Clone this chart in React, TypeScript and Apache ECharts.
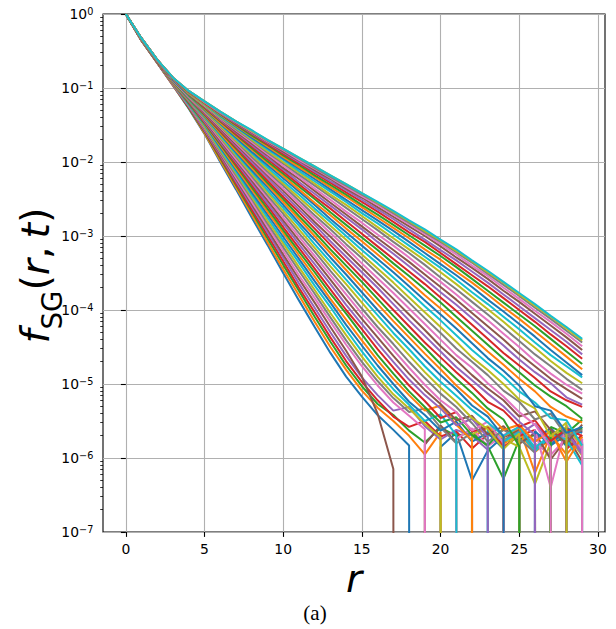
import React, { useEffect, useRef } from "react";
import * as echarts from "echarts";

// log10 of f_SG(r, t); Z marks a value of zero (non-positive), drawn off the bottom of the log axis
const Z = -Infinity;

const radii = [0, 1, 2, 3, 4, 5, 6, 7, 8, 9, 10, 11, 12, 13, 14, 15, 16, 17, 18, 19, 20, 21, 22, 23, 24, 25, 26, 27, 28, 29];

const c00 = [0, -0.36, -0.66, -0.97, -1.28, -1.62, -2.0, -2.37, -2.75, -3.12, -3.5, -3.87, -4.23, -4.58, -4.9, -5.17, -5.42, -5.62, -5.83, Z, -5.85, -5.66, -6.3, -5.9, -5.71, -5.64, Z, -5.83, -5.69, -5.76];
const c01 = [0, -0.36, -0.66, -0.97, -1.27, -1.61, -1.98, -2.34, -2.71, -3.08, -3.45, -3.8, -4.16, -4.5, -4.81, -5.09, -5.32, -5.5, -5.7, -5.95, -5.65, Z, -5.73, -5.58, -5.81, -5.67, -5.92, -5.74, -5.62, -5.8];
const c02 = [0, -0.36, -0.66, -0.96, -1.27, -1.59, -1.95, -2.31, -2.67, -3.03, -3.39, -3.74, -4.09, -4.43, -4.75, -5.03, -5.27, -5.42, -5.63, -5.79, -5.59, -5.7, -5.66, -5.84, -6.28, -5.75, -5.69, Z, -5.82, -5.6];
const c03 = [0, -0.36, -0.66, -0.96, -1.26, -1.58, -1.93, -2.29, -2.64, -2.99, -3.34, -3.7, -4.03, -4.37, -4.69, -4.97, -5.22, -5.44, -5.58, -5.5, -5.71, -5.64, -5.87, -5.68, -5.79, -5.57, Z, -5.76, -5.65, -5.88];
const c04 = [0, -0.36, -0.66, -0.96, -1.25, -1.57, -1.91, -2.26, -2.6, -2.95, -3.29, -3.64, -3.97, -4.3, -4.62, -4.91, -5.15, -5.36, -5.31, -5.57, -5.75, -5.62, -5.7, -5.89, Z, -5.66, -5.78, -5.59, -5.83, -5.71];
const c05 = [0, -0.36, -0.65, -0.95, -1.24, -1.55, -1.89, -2.23, -2.57, -2.91, -3.25, -3.58, -3.9, -4.23, -4.55, -4.9, -5.4, -6.15, Z, -5.82, -5.56, -5.79, Z, Z, -5.72, -5.62, -5.86, -5.75, -5.69, -6.05];
const c06 = [0, -0.35, -0.65, -0.95, -1.24, -1.54, -1.87, -2.21, -2.54, -2.87, -3.2, -3.53, -3.84, -4.16, -4.47, -4.76, -5.02, -5.25, -5.43, -5.61, Z, -5.74, -5.6, -5.84, -5.69, -5.58, -5.8, -5.96, -5.73, -5.64];
const c07 = [0, -0.35, -0.65, -0.95, -1.23, -1.53, -1.86, -2.18, -2.5, -2.83, -3.15, -3.47, -3.78, -4.1, -4.41, -4.7, -4.96, -5.19, -5.38, -5.33, -5.59, -5.8, -5.66, Z, -5.76, -5.64, -5.88, -5.71, -5.61, -5.85];
const c08 = [0, -0.35, -0.65, -0.94, -1.22, -1.52, -1.84, -2.15, -2.47, -2.79, -3.1, -3.42, -3.73, -4.04, -4.34, -4.63, -4.9, -5.14, -5.33, -5.54, -5.72, Z, -5.68, -5.57, -5.74, -5.85, -6.35, -5.79, -5.68, -5.97];
const c09 = [0, -0.35, -0.65, -0.94, -1.22, -1.5, -1.82, -2.13, -2.44, -2.75, -3.06, -3.36, -3.67, -3.96, -4.27, -4.56, -4.83, -5.07, -5.28, -5.5, -5.41, -5.69, Z, -5.62, -5.78, -5.65, -5.91, -5.7, Z, -5.81];
const c10 = [0, -0.35, -0.65, -0.94, -1.21, -1.49, -1.8, -2.1, -2.41, -2.71, -3.01, -3.31, -3.61, -3.9, -4.2, -4.48, -4.75, -5.0, -5.24, -5.42, -5.63, -5.51, -5.78, -5.66, -5.88, Z, -5.73, -5.6, -5.84, -5.77];
const c11 = [0, -0.35, -0.65, -0.94, -1.2, -1.48, -1.78, -2.08, -2.37, -2.67, -2.96, -3.26, -3.55, -3.85, -4.13, -4.41, -4.68, -4.93, -5.15, -5.36, -5.29, -5.55, -5.76, Z, -5.71, -5.59, -6.2, -5.68, -5.95, -5.72];
const c12 = [0, -0.35, -0.65, -0.93, -1.2, -1.47, -1.76, -2.05, -2.34, -2.63, -2.92, -3.21, -3.49, -3.78, -4.05, -4.33, -4.61, -4.86, -5.1, -5.31, -5.52, -5.45, -5.69, -5.83, -5.6, -5.77, Z, -5.64, -5.81, -5.58];
const c13 = [0, -0.35, -0.65, -0.93, -1.19, -1.46, -1.74, -2.03, -2.31, -2.59, -2.88, -3.16, -3.44, -3.72, -4.0, -4.26, -4.53, -4.78, -5.02, -5.23, -5.46, -5.38, -5.64, -5.59, -5.85, -5.7, -5.62, Z, -5.88, -5.69];
const c14 = [0, -0.35, -0.64, -0.93, -1.18, -1.45, -1.73, -2.0, -2.28, -2.56, -2.83, -3.11, -3.38, -3.65, -3.93, -4.19, -4.45, -4.7, -4.94, -5.15, -5.33, -5.56, -5.47, -5.72, Z, -5.68, -5.54, -5.79, -5.66, -5.95];
const c15 = [0, -0.35, -0.64, -0.92, -1.18, -1.43, -1.71, -1.98, -2.25, -2.52, -2.79, -3.06, -3.32, -3.59, -3.86, -4.12, -4.37, -4.62, -4.86, -5.08, -5.27, -5.49, -5.43, -5.68, -5.57, -5.81, -5.66, -6.02, -5.74, -5.63];
const c16 = [0, -0.35, -0.64, -0.92, -1.17, -1.42, -1.69, -1.96, -2.22, -2.48, -2.75, -3.01, -3.27, -3.53, -3.79, -4.05, -4.29, -4.54, -4.78, -5.01, -5.22, -5.38, -5.63, -5.51, -5.8, Z, -5.61, -6.4, -5.55, -5.9];
const c17 = [0, -0.35, -0.64, -0.92, -1.17, -1.41, -1.67, -1.93, -2.19, -2.45, -2.7, -2.96, -3.21, -3.47, -3.72, -3.98, -4.23, -4.46, -4.7, -4.92, -5.13, -5.31, -5.53, -5.78, -5.62, -5.74, -5.93, Z, Z, -5.79];
const c18 = [0, -0.35, -0.64, -0.92, -1.16, -1.4, -1.66, -1.91, -2.16, -2.41, -2.66, -2.91, -3.16, -3.41, -3.65, -3.9, -4.15, -4.38, -4.61, -4.84, -5.05, -5.24, -5.46, -5.61, -5.88, -5.67, Z, -5.73, -5.58, -5.84];
const c19 = [0, -0.34, -0.64, -0.91, -1.15, -1.39, -1.64, -1.89, -2.13, -2.38, -2.62, -2.86, -3.11, -3.35, -3.59, -3.83, -4.07, -4.31, -4.53, -4.76, -4.97, -5.16, -5.35, -5.52, -5.7, -5.58, -5.86, -5.69, -5.75, -6.1];
const c20 = [0, -0.34, -0.64, -0.91, -1.15, -1.38, -1.62, -1.87, -2.11, -2.34, -2.58, -2.82, -3.05, -3.29, -3.52, -3.76, -4.0, -4.23, -4.45, -4.67, -4.88, -5.07, -5.29, -5.44, -5.71, Z, -5.64, -5.83, -5.6, -5.66];
const c21 = [0, -0.34, -0.64, -0.91, -1.14, -1.37, -1.61, -1.85, -2.08, -2.31, -2.54, -2.77, -3.0, -3.23, -3.46, -3.69, -3.92, -4.15, -4.37, -4.59, -4.8, -5.02, -5.21, -5.39, -5.62, -5.55, -5.78, -5.64, -6.05, -5.71];
const c22 = [0, -0.34, -0.64, -0.91, -1.14, -1.36, -1.59, -1.82, -2.05, -2.28, -2.5, -2.73, -2.95, -3.18, -3.4, -3.62, -3.85, -4.08, -4.3, -4.51, -4.73, -4.93, -5.12, -5.33, -5.48, -5.84, Z, -5.58, -5.67, -5.48];
const c23 = [0, -0.34, -0.64, -0.9, -1.13, -1.35, -1.58, -1.8, -2.03, -2.25, -2.47, -2.68, -2.9, -3.12, -3.34, -3.56, -3.78, -4.0, -4.22, -4.44, -4.64, -4.84, -5.03, -5.24, -5.36, -5.58, -5.49, -5.77, -5.61, -5.7];
const c24 = [0, -0.34, -0.63, -0.9, -1.13, -1.34, -1.56, -1.78, -2.0, -2.21, -2.43, -2.64, -2.85, -3.07, -3.28, -3.49, -3.7, -3.92, -4.14, -4.35, -4.56, -4.77, -4.95, -5.13, -5.3, -5.51, -5.69, Z, -5.66, -5.92];
const c25 = [0, -0.34, -0.63, -0.9, -1.12, -1.33, -1.55, -1.76, -1.97, -2.18, -2.39, -2.6, -2.81, -3.01, -3.22, -3.43, -3.64, -3.85, -4.06, -4.27, -4.49, -4.68, -4.88, -5.06, -5.22, -5.44, -5.37, -5.62, -5.8, -5.55];
const c26 = [0, -0.34, -0.63, -0.9, -1.12, -1.32, -1.53, -1.74, -1.95, -2.16, -2.36, -2.56, -2.76, -2.96, -3.16, -3.37, -3.57, -3.77, -3.98, -4.19, -4.4, -4.61, -4.78, -4.99, -5.17, -5.38, -5.55, -5.86, Z, -5.74];
const c27 = [0, -0.34, -0.63, -0.89, -1.11, -1.31, -1.52, -1.72, -1.93, -2.13, -2.32, -2.52, -2.72, -2.91, -3.11, -3.3, -3.5, -3.7, -3.9, -4.11, -4.31, -4.52, -4.7, -4.88, -5.09, -5.24, -5.48, -5.4, -5.71, -5.62];
const c28 = [0, -0.34, -0.63, -0.89, -1.11, -1.3, -1.51, -1.71, -1.9, -2.1, -2.29, -2.48, -2.67, -2.86, -3.05, -3.25, -3.44, -3.63, -3.83, -4.03, -4.23, -4.43, -4.64, -4.81, -5.0, -5.21, -5.33, -5.71, -5.52, Z];
const c29 = [0, -0.34, -0.63, -0.89, -1.1, -1.29, -1.49, -1.69, -1.88, -2.07, -2.26, -2.44, -2.63, -2.81, -3.0, -3.19, -3.37, -3.56, -3.75, -3.95, -4.14, -4.34, -4.54, -4.72, -4.9, -5.1, -5.25, -5.46, -5.49, -5.83];
const c30 = [0, -0.34, -0.63, -0.89, -1.1, -1.29, -1.48, -1.67, -1.86, -2.04, -2.22, -2.4, -2.58, -2.77, -2.95, -3.13, -3.31, -3.49, -3.68, -3.87, -4.06, -4.25, -4.45, -4.65, -4.82, -5.02, -5.3, -5.36, -5.66, -5.58];
const c31 = [0, -0.34, -0.63, -0.88, -1.09, -1.28, -1.47, -1.65, -1.83, -2.01, -2.19, -2.37, -2.55, -2.72, -2.9, -3.07, -3.25, -3.43, -3.61, -3.8, -3.98, -4.17, -4.37, -4.56, -4.74, -4.93, -5.1, -5.31, -5.44, -5.52];
const c32 = [0, -0.34, -0.63, -0.88, -1.09, -1.27, -1.45, -1.63, -1.81, -1.99, -2.16, -2.33, -2.5, -2.68, -2.85, -3.02, -3.19, -3.37, -3.54, -3.72, -3.9, -4.09, -4.28, -4.47, -4.66, -4.84, -5.02, -5.17, -5.3, -5.47];
const c33 = [0, -0.34, -0.63, -0.88, -1.08, -1.26, -1.44, -1.62, -1.79, -1.96, -2.13, -2.3, -2.47, -2.63, -2.8, -2.97, -3.14, -3.31, -3.48, -3.65, -3.83, -4.01, -4.2, -4.39, -4.58, -4.75, -4.92, -5.1, -5.22, -5.31];
const c34 = [0, -0.34, -0.63, -0.88, -1.08, -1.25, -1.43, -1.6, -1.77, -1.94, -2.1, -2.27, -2.43, -2.59, -2.75, -2.91, -3.08, -3.24, -3.41, -3.58, -3.76, -3.93, -4.11, -4.3, -4.48, -4.67, -4.84, -4.99, -5.18, -5.28];
const c35 = [0, -0.33, -0.63, -0.88, -1.08, -1.25, -1.42, -1.59, -1.75, -1.91, -2.08, -2.23, -2.39, -2.55, -2.71, -2.87, -3.03, -3.19, -3.35, -3.52, -3.69, -3.86, -4.04, -4.22, -4.4, -4.59, -4.76, -4.93, -5.07, -5.2];
const c36 = [0, -0.33, -0.63, -0.88, -1.07, -1.24, -1.41, -1.57, -1.73, -1.89, -2.05, -2.2, -2.36, -2.51, -2.67, -2.82, -2.98, -3.13, -3.29, -3.46, -3.62, -3.79, -3.97, -4.14, -4.32, -4.5, -4.69, -4.86, -5.01, -5.13];
const c37 = [0, -0.33, -0.62, -0.87, -1.07, -1.23, -1.4, -1.56, -1.71, -1.87, -2.02, -2.17, -2.32, -2.47, -2.62, -2.77, -2.92, -3.08, -3.23, -3.39, -3.56, -3.72, -3.89, -4.06, -4.24, -4.42, -4.6, -4.76, -4.93, -5.08];
const c38 = [0, -0.33, -0.62, -0.87, -1.07, -1.23, -1.39, -1.54, -1.7, -1.85, -2.0, -2.14, -2.29, -2.44, -2.58, -2.73, -2.88, -3.03, -3.18, -3.33, -3.49, -3.65, -3.82, -3.99, -4.16, -4.34, -4.51, -4.69, -4.85, -4.99];
const c39 = [0, -0.33, -0.62, -0.87, -1.06, -1.22, -1.38, -1.53, -1.68, -1.83, -1.97, -2.12, -2.26, -2.4, -2.54, -2.69, -2.83, -2.98, -3.13, -3.28, -3.43, -3.59, -3.76, -3.92, -4.09, -4.26, -4.44, -4.61, -4.76, -4.91];
const c40 = [0, -0.33, -0.62, -0.87, -1.06, -1.21, -1.37, -1.52, -1.67, -1.81, -1.95, -2.09, -2.23, -2.37, -2.51, -2.65, -2.79, -2.93, -3.08, -3.23, -3.38, -3.53, -3.69, -3.86, -4.02, -4.19, -4.36, -4.54, -4.71, -4.88];
const c41 = [0, -0.33, -0.62, -0.87, -1.06, -1.21, -1.36, -1.51, -1.65, -1.79, -1.93, -2.07, -2.2, -2.34, -2.47, -2.61, -2.75, -2.89, -3.03, -3.18, -3.32, -3.48, -3.63, -3.79, -3.96, -4.12, -4.29, -4.46, -4.63, -4.8];
const c42 = [0, -0.33, -0.62, -0.87, -1.05, -1.2, -1.35, -1.5, -1.64, -1.77, -1.91, -2.04, -2.18, -2.31, -2.44, -2.58, -2.71, -2.85, -2.99, -3.13, -3.27, -3.42, -3.58, -3.74, -3.9, -4.06, -4.22, -4.39, -4.56, -4.73];
const c43 = [0, -0.33, -0.62, -0.87, -1.05, -1.2, -1.34, -1.49, -1.62, -1.76, -1.89, -2.02, -2.15, -2.28, -2.41, -2.54, -2.67, -2.81, -2.95, -3.08, -3.23, -3.38, -3.53, -3.68, -3.84, -4.0, -4.16, -4.33, -4.49, -4.66];
const c44 = [0, -0.33, -0.62, -0.86, -1.05, -1.19, -1.34, -1.48, -1.61, -1.74, -1.87, -2.0, -2.13, -2.26, -2.38, -2.51, -2.64, -2.77, -2.91, -3.05, -3.19, -3.33, -3.48, -3.63, -3.79, -3.95, -4.11, -4.27, -4.43, -4.6];
const c45 = [0, -0.33, -0.62, -0.86, -1.05, -1.19, -1.33, -1.47, -1.6, -1.73, -1.86, -1.98, -2.11, -2.23, -2.36, -2.48, -2.61, -2.74, -2.87, -3.0, -3.14, -3.29, -3.43, -3.58, -3.74, -3.89, -4.05, -4.21, -4.37, -4.54];
const c46 = [0, -0.33, -0.62, -0.86, -1.04, -1.19, -1.33, -1.46, -1.59, -1.72, -1.84, -1.97, -2.09, -2.21, -2.34, -2.46, -2.58, -2.71, -2.84, -2.97, -3.11, -3.25, -3.4, -3.54, -3.7, -3.85, -4.01, -4.16, -4.32, -4.49];
const c47 = [0, -0.33, -0.62, -0.86, -1.04, -1.18, -1.32, -1.45, -1.58, -1.71, -1.83, -1.95, -2.08, -2.2, -2.32, -2.44, -2.56, -2.69, -2.82, -2.95, -3.08, -3.22, -3.36, -3.51, -3.66, -3.81, -3.97, -4.12, -4.28, -4.44];
const c48 = [0, -0.33, -0.62, -0.86, -1.04, -1.18, -1.32, -1.45, -1.58, -1.7, -1.82, -1.94, -2.06, -2.18, -2.3, -2.42, -2.55, -2.67, -2.8, -2.93, -3.06, -3.2, -3.34, -3.49, -3.63, -3.79, -3.94, -4.09, -4.25, -4.41];
const c49 = [0, -0.33, -0.62, -0.86, -1.04, -1.18, -1.32, -1.45, -1.57, -1.7, -1.82, -1.94, -2.06, -2.18, -2.3, -2.42, -2.54, -2.66, -2.79, -2.91, -3.05, -3.18, -3.33, -3.47, -3.62, -3.77, -3.92, -4.08, -4.23, -4.39];

const curves = [
  c00, c01, c02, c03, c04, c05, c06, c07, c08, c09,
  c10, c11, c12, c13, c14, c15, c16, c17, c18, c19,
  c20, c21, c22, c23, c24, c25, c26, c27, c28, c29,
  c30, c31, c32, c33, c34, c35, c36, c37, c38, c39,
  c40, c41, c42, c43, c44, c45, c46, c47, c48, c49,
];

const palette = ["#1f77b4", "#ff7f0e", "#2ca02c", "#d62728", "#9467bd", "#8c564b", "#e377c2", "#7f7f7f", "#bcbd22", "#17becf"];

const xTicks = [0, 5, 10, 15, 20, 25, 30];
const yDecades = [-7, -6, -5, -4, -3, -2, -1, 0];
const yMinorMantissas = [2, 3, 4, 5, 6, 7, 8, 9];

export default function App() {
  const ref = useRef<HTMLDivElement>(null);

  useEffect(() => {
    if (!ref.current) return;
    const chart = echarts.init(ref.current, null, { renderer: "svg" });

    const yTicks = yDecades.map((e) => Math.pow(10, e));
    const yMinor: number[] = [];
    yDecades.slice(0, -1).forEach((e) => yMinorMantissas.forEach((m) => yMinor.push(m * Math.pow(10, e))));

    const series = curves.map((c, i) => ({
      type: "line",
      data: radii.map((r, k) => [r, c[k] === Z ? 1e-300 : Math.pow(10, c[k])]),
      symbol: "none",
      showSymbol: false,
      clip: true,
      silent: true,
      lineStyle: { width: 2, color: palette[i % 10] },
      itemStyle: { color: palette[i % 10] },
      emphasis: { disabled: true },
      z: 2,
    }));

    const tickStyle = { color: "#000", width: 1.1 };
    const gridStyle = { color: "#b0b0b0", width: 1.1 };
    const labelFont = { fontFamily: "DejaVu Sans", fontSize: 13.9, color: "#000" };

    chart.setOption({
      animation: false,
      backgroundColor: "#fff",
      grid: {
        left: 103,
        right: 11,
        top: 14,
        bottom: 97,
        show: true,
        borderColor: "#000",
        borderWidth: 1.1,
        backgroundColor: "transparent",
        containLabel: false,
      },
      xAxis: {
        type: "value",
        min: -1.45,
        max: 30.45,
        axisLine: { show: false },
        axisTick: { show: true, length: 4.9, lineStyle: tickStyle, customValues: xTicks },
        axisLabel: { ...labelFont, margin: 9.5, customValues: xTicks },
        splitLine: { show: true, lineStyle: gridStyle },
      },
      yAxis: [
        {
          type: "log",
          logBase: 10,
          min: 1e-7,
          max: 1,
          position: "left",
          axisLine: { show: false },
          axisTick: { show: true, length: 4.9, lineStyle: tickStyle, customValues: yTicks },
          axisLabel: {
            customValues: yTicks,
            margin: 9.7,
            formatter: (v: number) => {
              const e = Math.round(Math.log10(v));
              return `{b|10}{s|${e < 0 ? "\u2212" + -e : e}}`;
            },
            rich: {
              b: { ...labelFont, lineHeight: 16, verticalAlign: "middle" },
              s: { fontFamily: "DejaVu Sans", fontSize: 9.7, color: "#000", lineHeight: 10, verticalAlign: "top" },
            },
          },
          splitLine: { show: true, lineStyle: gridStyle },
        },
        {
          type: "log",
          logBase: 10,
          min: 1e-7,
          max: 1,
          position: "left",
          axisLine: { show: false },
          axisTick: { show: true, length: 2.8, lineStyle: { color: "#000", width: 0.8 }, customValues: yMinor },
          axisLabel: { show: false },
          splitLine: { show: false },
        },
      ],
      series,
      graphic: [
        {
          type: "text",
          x: 35,
          y: 275.5,
          rotation: Math.PI / 2,
          silent: true,
          style: {
            text: "{i|f}{sub|SG}{n|(}{i|r}{n|,\u2009}{i|t}{n|)}",
            align: "center",
            verticalAlign: "middle",
            fill: "#000",
            rich: {
              i: { fontFamily: "DejaVu Sans", fontStyle: "italic", fontSize: 39.5, lineHeight: 62, verticalAlign: "middle", fill: "#000" },
              n: { fontFamily: "DejaVu Sans", fontSize: 39.5, lineHeight: 62, verticalAlign: "middle", fill: "#000" },
              sub: { fontFamily: "DejaVu Sans", fontSize: 27.6, lineHeight: 42, verticalAlign: "bottom", fill: "#000" },
            },
          },
        },
        {
          type: "text",
          x: 354,
          y: 578,
          silent: true,
          style: {
            text: "r",
            fontFamily: "DejaVu Sans",
            fontStyle: "italic",
            fontSize: 39,
            fill: "#000",
            align: "center",
            verticalAlign: "middle",
          },
        },
        {
          type: "text",
          x: 315,
          y: 613,
          silent: true,
          style: {
            text: "(a)",
            fontFamily: "Liberation Serif",
            fontSize: 21,
            fill: "#000",
            align: "center",
            verticalAlign: "middle",
          },
        },
      ],
    });

    return () => chart.dispose();
  }, []);

  return <div ref={ref} style={{ position: "absolute", left: 0, top: 0, width: 616, height: 629 }} />;
}
